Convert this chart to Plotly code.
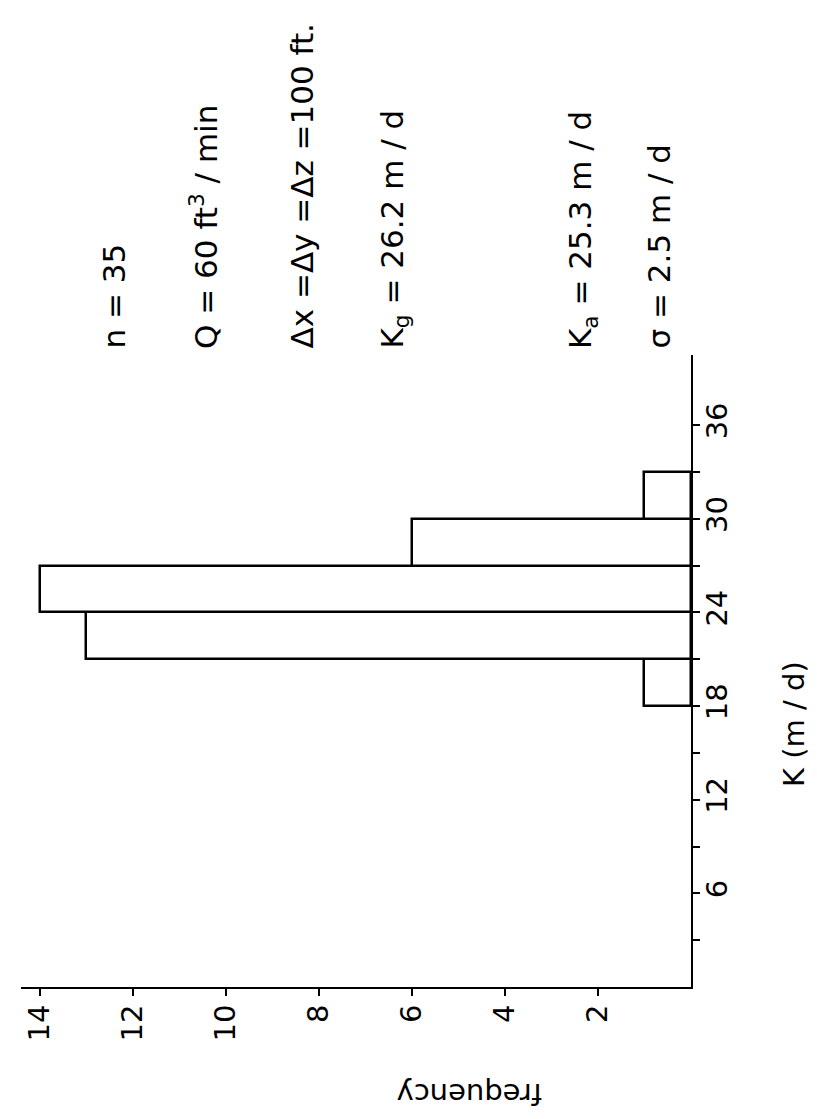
import plotly.graph_objects as go

# ---------------- data ----------------
k_bin_start = [18, 21, 24, 27, 30]          # K (m/d) lower bin edges
bin_width = 3
frequency = [1, 13, 14, 6, 1]               # counts (n = 35)

k_tickvals = [6, 12, 18, 24, 30, 36]
k_ticktext = ["6", "12", "18", "24", "30", "36"]
k_minor_tickvals = [3, 9, 15, 21, 27, 33]
freq_tickvals = [2, 4, 6, 8, 10, 12, 14]
freq_ticktext = ["2", "4", "6", "8", "10", "12", "14"]

stats_text = [
    "n = 35",
    "Q = 60 ft<sup>3</sup> / min",
    "Δx =Δy =Δz =100 ft.",
    "K<sub>g</sub> = 26.2 m / d",
    "K<sub>a</sub> = 25.3 m / d",
    "σ = 2.5 m / d",
]
x_title = "K (m / d)"
y_title = "frequency"

# ---------------- layout geometry (pixels) ----------------
W, H = 817, 1119
L, R, T, B = 13, 134, 347, 140
PW, PH = W - L - R, H - T - B


def px(xp):
    return (xp - L) / PW


def py(yp):
    return (H - B - yp) / PH


FONT = "DejaVu Sans"

k_centers = [s + bin_width / 2 for s in k_bin_start]

fig = go.Figure()
fig.add_trace(go.Bar(
    orientation="h",
    y=k_centers,
    x=frequency,
    width=[bin_width] * len(frequency),
    marker=dict(color="white", line=dict(color="black", width=2.5)),
    showlegend=False,
))

fig.update_layout(
    width=W, height=H,
    margin=dict(l=L, r=R, t=T, b=B, pad=0),
    paper_bgcolor="white", plot_bgcolor="white",
    font=dict(family=FONT, color="black", size=28),
    xaxis=dict(
        range=[14.4, 0], showgrid=False, zeroline=False,
        showline=True, linecolor="black", linewidth=2,
        ticks="outside", ticklen=7, tickwidth=2, tickcolor="black",
        tickmode="array", tickvals=freq_tickvals, ticktext=freq_ticktext,
        tickangle=-90, ticklabelstandoff=-3,
        tickfont=dict(family=FONT, size=29),
    ),
    yaxis=dict(
        range=[0, 40.5], side="right", showgrid=False, zeroline=False,
        showline=True, linecolor="black", linewidth=2,
        ticks="outside", ticklen=7, tickwidth=2, tickcolor="black",
        tickmode="array", tickvals=k_tickvals, ticktext=k_ticktext,
        tickangle=-90, ticklabelstandoff=-8,
        tickfont=dict(family=FONT, size=29),
        minor=dict(tickmode="array", tickvals=k_minor_tickvals,
                   ticks="outside", ticklen=7, tickwidth=2,
                   tickcolor="black", showgrid=False),
    ),
    bargap=0,
)

# stats annotations (rotated, reading bottom-to-top)
stat_x = [105, 196, 293, 386, 574, 650]
annots = []
for txt, xp in zip(stats_text, stat_x):
    annots.append(dict(
        text=txt, x=px(xp), y=py(343), xref="paper", yref="paper",
        xanchor="center", yanchor="bottom", textangle=-90, showarrow=False,
        font=dict(family=FONT, size=31, color="black"),
    ))

annots.append(dict(
    text=x_title, x=px(786), y=py(716), xref="paper", yref="paper",
    xanchor="center", yanchor="middle", textangle=-90, showarrow=False,
    font=dict(family=FONT, size=29, color="black"),
))
annots.append(dict(
    text=y_title, x=px(462), y=py(1086), xref="paper", yref="paper",
    xanchor="center", yanchor="middle", textangle=180, showarrow=False,
    font=dict(family=FONT, size=29, color="black"),
))
fig.update_layout(annotations=annots)

fig.write_html("out.html")
